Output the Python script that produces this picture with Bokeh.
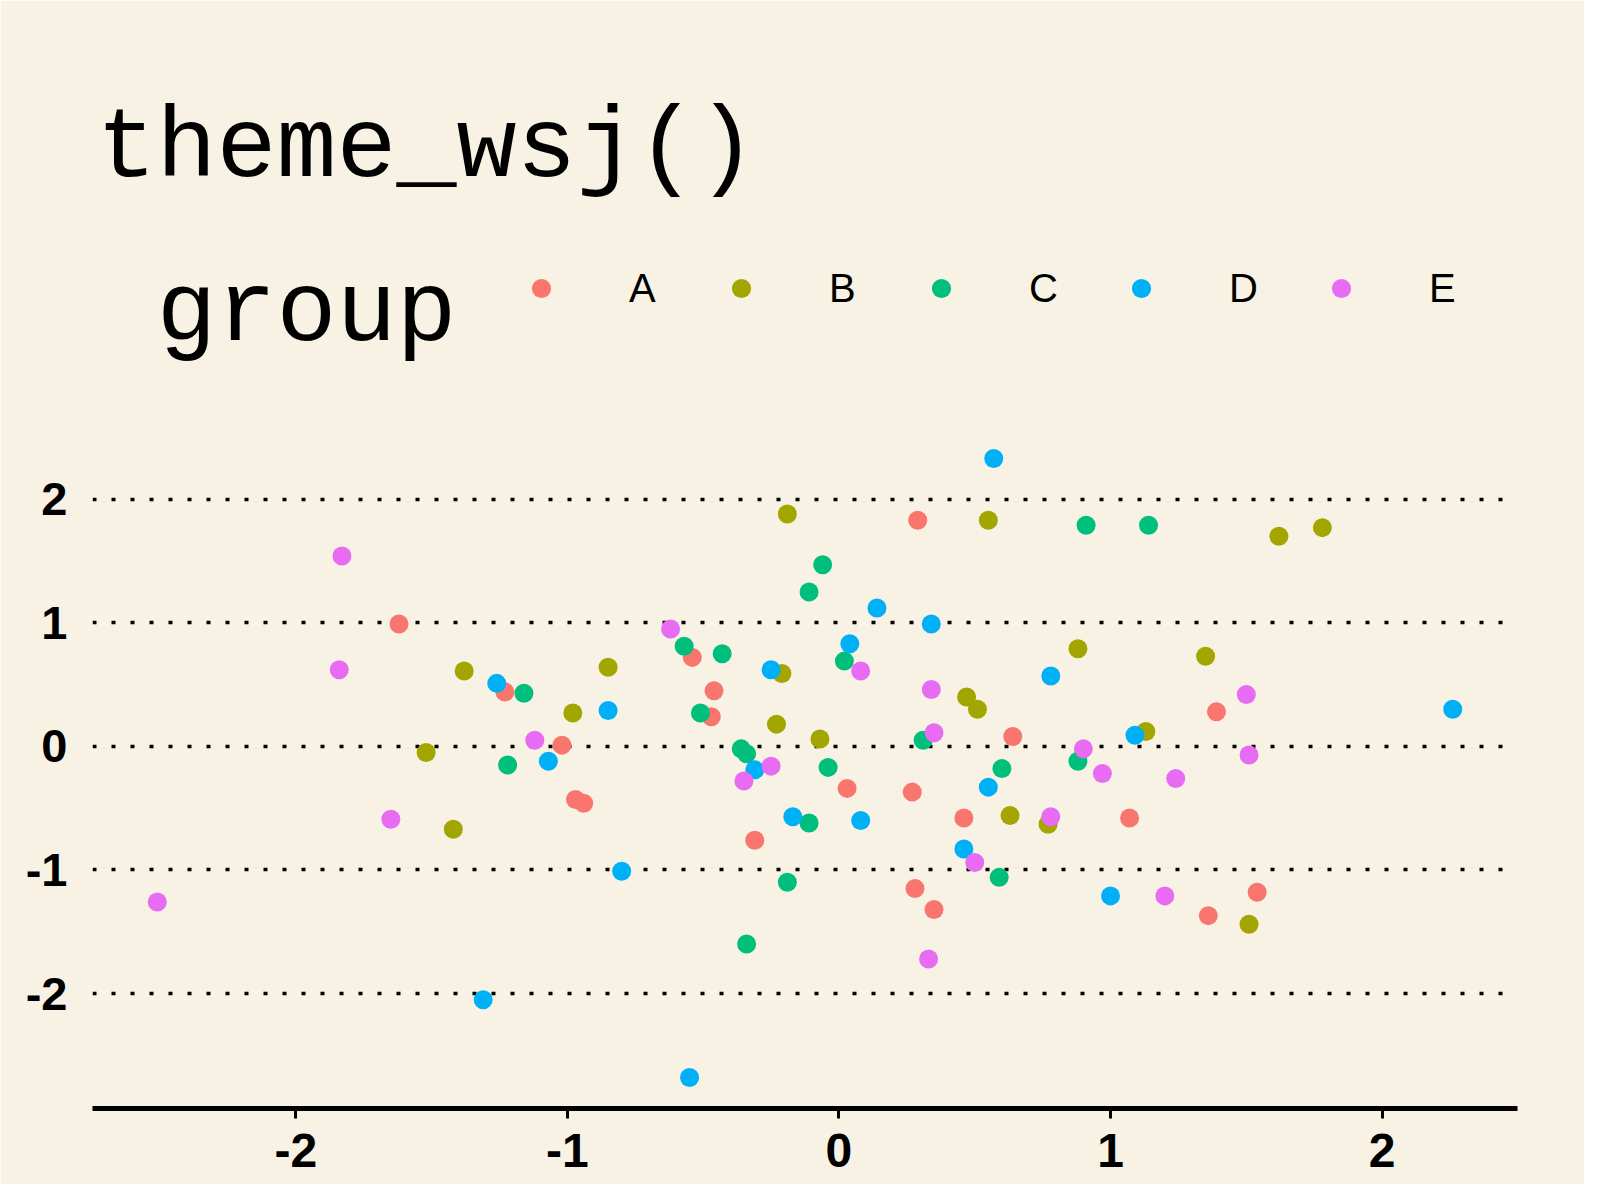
from bokeh.plotting import figure
from bokeh.models import Label, Legend, LegendItem, FixedTicker, Range1d, ColumnDataSource
from bokeh.embed import file_html
from bokeh.resources import INLINE

# ---- data ----
groups = ["A", "B", "C", "D", "E"]
colors = ["#F8766D", "#A3A500", "#00BF7D", "#00B0F6", "#E76BF3"]

a_x = [-1.62, -1.23, -1.02, 0.29, -0.54, -0.46, -0.47, 0.64, -0.97, -0.94,
       0.03, 0.27, 0.46, -0.31, 0.28, 0.35, 1.39, 1.07, 1.36, 1.54]
a_y = [0.99, 0.44, 0.01, 1.83, 0.72, 0.45, 0.24, 0.08, -0.43, -0.46,
       -0.34, -0.37, -0.58, -0.76, -1.15, -1.32, 0.28, -0.58, -1.37, -1.18]

b_x = [-1.38, -1.52, -1.42, -0.19, 0.55, -0.85, -0.21, 0.47, 0.51, -0.98,
       -0.23, -0.07, 0.63, 1.62, 1.78, 0.88, 1.35, 1.13, 0.77, 1.51]
b_y = [0.61, -0.05, -0.67, 1.88, 1.83, 0.64, 0.59, 0.40, 0.30, 0.27,
       0.18, 0.06, -0.56, 1.70, 1.77, 0.79, 0.73, 0.12, -0.63, -1.44]

c_x = [-1.16, -1.22, -0.06, -0.11, -0.57, -0.43, 0.02, -0.51, 0.31, -0.36,
       -0.34, -0.04, 0.60, -0.11, 0.59, -0.19, -0.34, 0.91, 1.14, 0.88]
c_y = [0.43, -0.15, 1.47, 1.25, 0.81, 0.75, 0.69, 0.27, 0.05, -0.02,
       -0.06, -0.17, -0.18, -0.62, -1.06, -1.10, -1.60, 1.79, 1.79, -0.12]

d_x = [-1.26, -1.07, -1.31, 0.57, 0.14, 0.34, 0.04, -0.25, -0.85, -0.31,
       0.55, -0.17, 0.08, 0.46, -0.80, -0.55, 0.78, 2.26, 1.09, 1.00]
d_y = [0.51, -0.12, -2.05, 2.33, 1.12, 0.99, 0.83, 0.62, 0.29, -0.19,
       -0.33, -0.57, -0.60, -0.83, -1.01, -2.68, 0.57, 0.30, 0.09, -1.21]

e_x = [-1.83, -1.84, -1.12, -1.65, -2.51, -0.62, 0.08, 0.34, 0.35, -0.25,
       -0.35, 0.50, 0.33, 1.50, 0.90, 1.51, 0.97, 1.24, 0.78, 1.20]
e_y = [1.54, 0.62, 0.05, -0.59, -1.26, 0.95, 0.61, 0.46, 0.11, -0.16,
       -0.28, -0.94, -1.72, 0.42, -0.02, -0.07, -0.22, -0.26, -0.57, -1.21]

tick_values = [-2, -1, 0, 1, 2]
tick_labels = ["-2", "-1", "0", "1", "2"]

title_text = "theme_wsj()"
legend_title = "group"

# ---- layout / styling ----
BG = "#F8F2E4"
W, H = 1584, 1184
BORDER_L, BORDER_R, BORDER_T, BORDER_B = 92, 67, 20, 76
PANEL_H = 681          # height of the data panel (ggplot panel) in px

xs_all = [a_x, b_x, c_x, d_x, e_x]
ys_all = [a_y, b_y, c_y, d_y, e_y]

allx = [v for s in xs_all for v in s]
ally = [v for s in ys_all for v in s]
px = 0.05 * (max(allx) - min(allx))
py = 0.05 * (max(ally) - min(ally))
ylo, yhi = min(ally) - py, max(ally) + py
frame_h = H - BORDER_T - BORDER_B
# frame extends above the data panel so the header (title + legend) is drawn inside it
yhi_ext = ylo + (yhi - ylo) * frame_h / PANEL_H

p = figure(width=W, height=H, output_backend="svg", toolbar_location=None,
           title_location=None,
           x_range=Range1d(min(allx) - px, max(allx) + px),
           y_range=Range1d(ylo, yhi_ext),
           min_border_left=BORDER_L, min_border_right=BORDER_R,
           min_border_top=BORDER_T, min_border_bottom=BORDER_B,
           background_fill_color=BG, border_fill_color=BG,
           outline_line_color=None)

renderers = []
for g, c, xs, ys in zip(groups, colors, xs_all, ys_all):
    src = ColumnDataSource(dict(x=xs, y=ys))
    r = p.scatter("x", "y", source=src, size=19, fill_color=c, line_color=None)
    renderers.append(r)

# axes
ticker = FixedTicker(ticks=tick_values)
overrides = {v: l for v, l in zip(tick_values, tick_labels)}

p.xaxis.ticker = ticker
p.xaxis.major_label_overrides = overrides
p.xaxis.axis_line_color = "black"
p.xaxis.axis_line_width = 5
p.xaxis.major_tick_line_color = "black"
p.xaxis.major_tick_line_width = 3
p.xaxis.major_tick_out = 10
p.xaxis.major_tick_in = 0
p.xaxis.minor_tick_line_color = None
p.xaxis.major_label_standoff = 15
p.xaxis.major_label_text_font = "Liberation Sans"
p.xaxis.major_label_text_font_style = "bold"
p.xaxis.major_label_text_font_size = "48px"
p.xaxis.major_label_text_color = "black"

p.yaxis.ticker = ticker
p.yaxis.major_label_overrides = overrides
p.yaxis.axis_line_color = None
p.yaxis.major_tick_line_color = None
p.yaxis.minor_tick_line_color = None
p.yaxis.major_tick_out = 0
p.yaxis.major_tick_in = 0
p.yaxis.major_label_standoff = 25
p.yaxis.major_label_text_font = "Liberation Sans"
p.yaxis.major_label_text_font_style = "bold"
p.yaxis.major_label_text_font_size = "47px"
p.yaxis.major_label_text_color = "black"

p.xgrid.visible = False
p.ygrid.ticker = ticker
p.ygrid.grid_line_color = "black"
p.ygrid.grid_line_width = 3.5
p.ygrid.grid_line_dash = "4 15"

# title and legend title (screen units relative to the frame's bottom-left)
p.add_layout(Label(x=4, y=959, x_units="screen", y_units="screen", text=title_text,
                   text_font="Liberation Mono", text_font_size="100px",
                   text_color="black", text_baseline="alphabetic", text_align="left"))
p.add_layout(Label(x=64, y=795, x_units="screen", y_units="screen", text=legend_title,
                   text_font="Liberation Mono", text_font_size="100px",
                   text_color="black", text_baseline="alphabetic", text_align="left"))

legend = Legend(items=[LegendItem(label=g, renderers=[r]) for g, r in zip(groups, renderers)],
                orientation="horizontal", location=(425, 796),
                glyph_width=48, glyph_height=48, label_standoff=64,
                label_width=50, spacing=38, padding=0, margin=0,
                border_line_color=None, background_fill_alpha=0,
                label_text_font="Liberation Sans", label_text_font_size="40px",
                label_text_color="black")
p.add_layout(legend)

open("out.html", "w").write(file_html(p, INLINE))
